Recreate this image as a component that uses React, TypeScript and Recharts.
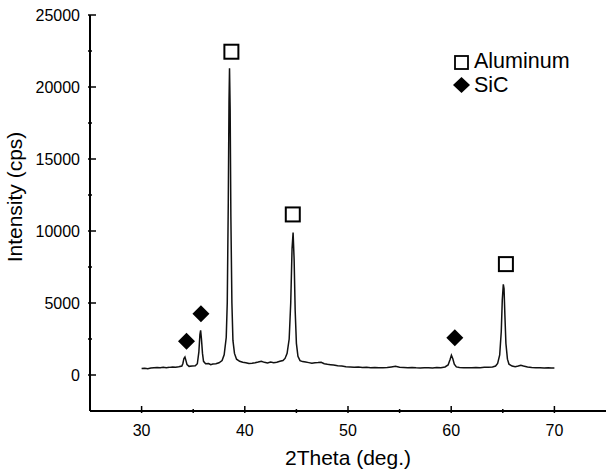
import React from "react";
import { ComposedChart, Line, Scatter, XAxis, YAxis, Legend } from "recharts";

// XRD scan
const twoTheta = [
  30.0, 30.3, 30.6, 30.9, 31.2, 31.5, 31.8, 32.1, 32.4, 32.7, 33.0, 33.3, 33.6, 33.9,
  34.0, 34.1, 34.2, 34.3, 34.4, 34.6, 34.9, 35.2, 35.4, 35.55, 35.65, 35.72, 35.8, 35.9,
  36.0, 36.2, 36.5, 36.7, 36.9, 37.2, 37.5, 37.8, 38.0, 38.2, 38.3, 38.4, 38.47, 38.52,
  38.58, 38.65, 38.75, 38.85, 39.0, 39.2, 39.5, 39.8, 40.1, 40.4, 40.7, 41.0, 41.3, 41.6,
  41.9, 42.2, 42.5, 42.8, 43.1, 43.4, 43.7, 43.9, 44.1, 44.3, 44.45, 44.58, 44.68, 44.78,
  44.88, 45.0, 45.15, 45.35, 45.6, 45.9, 46.2, 46.5, 46.8, 47.1, 47.4, 47.7, 48.0, 48.3,
  48.6, 49.0, 49.4, 49.8, 50.2, 50.6, 51.0, 51.4, 51.8, 52.2, 52.6, 53.0, 53.4, 53.8,
  54.2, 54.6, 55.0, 55.4, 55.8, 56.2, 56.6, 57.0, 57.4, 57.8, 58.2, 58.6, 59.0, 59.4,
  59.7, 59.9, 60.02, 60.15, 60.3, 60.5, 60.8, 61.2, 61.6, 62.0, 62.4, 62.8, 63.2, 63.6,
  64.0, 64.3, 64.5, 64.7, 64.85, 64.95, 65.05, 65.12, 65.2, 65.3, 65.45, 65.6, 65.9, 66.2,
  66.5, 66.75, 67.0, 67.4, 67.8, 68.2, 68.6, 69.0, 69.4, 69.7, 70.0,
];
const intensity = [
  450, 470, 440, 480, 500, 520, 500, 540, 510, 530, 560, 540, 570, 620,
  800, 1150, 1250, 1000, 720, 600, 620, 640, 780, 1600, 2800, 3100, 2500, 1500,
  950, 780, 800, 720, 760, 780, 850, 1000, 1400, 2600, 5000, 12000, 19000, 21300,
  18500, 11000, 5000, 2400, 1500, 1100, 950, 880, 850, 800, 820, 850, 900, 960,
  880, 840, 900, 850, 880, 950, 1000, 1150, 1500, 2500, 5000, 8800, 9900, 8000,
  4500, 2200, 1300, 1000, 930, 900, 860, 820, 850, 860, 880, 780, 740, 720,
  700, 650, 620, 580, 560, 540, 550, 520, 530, 510, 520, 500, 510, 520,
  560, 600, 540, 520, 500, 520, 500, 490, 510, 500, 490, 520, 510, 560,
  700, 1100, 1380, 1150, 750, 560, 520, 500, 510, 500, 520, 510, 530, 540,
  560, 620, 800, 1400, 3000, 5200, 6300, 6000, 4200, 2200, 1100, 750, 620, 580,
  620, 680, 620, 560, 520, 500, 510, 490, 500, 480, 480,
];

// peak markers
const aluminumX = [38.7, 44.65, 65.3];
const aluminumY = [22450, 11150, 7700];
const sicX = [34.35, 35.75, 60.35];
const sicY = [2350, 4250, 2580];

const xTicks = [30, 35, 40, 45, 50, 55, 60, 65, 70];
const yTicks = [0, 2500, 5000, 7500, 10000, 12500, 15000, 17500, 20000, 22500, 25000];

const FONT = '"Liberation Sans", Arial, Helvetica, sans-serif';

const spectrum = twoTheta.map((x, i) => ({ x, y: intensity[i] }));
const aluminum = aluminumX.map((x, i) => ({ x, y: aluminumY[i] }));
const sic = sicX.map((x, i) => ({ x, y: sicY[i] }));

const BottomTick = (props: any) => {
  const { x, y, payload } = props;
  const major = payload.value % 10 === 0;
  return (
    <g>
      <line x1={x} x2={x} y1={y} y2={y - (major ? 7 : 4)} stroke="#000" strokeWidth={1.5} />
      {major && (
        <text x={x} y={y + 23} textAnchor="middle" fontSize={16} fontFamily={FONT} fill="#000">
          {payload.value}
        </text>
      )}
    </g>
  );
};

const TopTick = (props: any) => {
  const { x, y, payload } = props;
  const major = payload.value % 10 === 0;
  return <line x1={x} x2={x} y1={y} y2={y + (major ? 7 : 4)} stroke="#000" strokeWidth={1.5} />;
};

const LeftTick = (props: any) => {
  const { x, y, payload } = props;
  const major = payload.value % 5000 === 0;
  return (
    <g>
      <line x1={x} x2={x + (major ? 8 : 4)} y1={y} y2={y} stroke="#000" strokeWidth={1.5} />
      {major && (
        <text x={x - 8} y={y + 6} textAnchor="end" fontSize={16} fontFamily={FONT} fill="#000">
          {payload.value}
        </text>
      )}
    </g>
  );
};

const Square = (props: any) => (
  <rect x={props.cx - 7} y={props.cy - 7} width={14} height={14} fill="#fff" stroke="#000" strokeWidth={2} />
);

const Diamond = (props: any) => {
  const { cx, cy } = props;
  return <polygon points={`${cx},${cy - 8.5} ${cx + 8.5},${cy} ${cx},${cy + 8.5} ${cx - 8.5},${cy}`} fill="#000" />;
};

const YTitle = () => (
  <text
    x={22}
    y={197}
    transform="rotate(-90, 22, 197)"
    textAnchor="middle"
    fontSize={21}
    fontFamily={FONT}
    fill="#000"
  >
    Intensity (cps)
  </text>
);

const LegendBox = () => (
  <svg width={150} height={55}>
    <rect x={5} y={11} width={13} height={13} fill="#fff" stroke="#000" strokeWidth={1.8} />
    <text x={24} y={23} fontSize={21.5} fontFamily={FONT} fill="#000">
      Aluminum
    </text>
    <polygon points="11.5,32 20,40 11.5,48 3,40" fill="#000" />
    <text x={24} y={47} fontSize={21.5} fontFamily={FONT} fill="#000">
      SiC
    </text>
  </svg>
);

export default function App() {
  return (
    <div style={{ position: "absolute", left: 0, top: 0 }}>
      <ComposedChart width={607} height={470} margin={{ top: 15, right: 1, bottom: 0, left: 0 }}>
        <XAxis
          xAxisId="b"
          type="number"
          dataKey="x"
          domain={[25, 75]}
          ticks={xTicks}
          interval={0}
          tickSize={0}
          tickLine={false}
          tick={<BottomTick />}
          height={59}
          axisLine={{ stroke: "#000", strokeWidth: 2 }}
          label={{ value: "2Theta (deg.)", position: "insideBottom", offset: 5, fontSize: 21, fontFamily: FONT, fill: "#000" }}
        />
        <XAxis
          xAxisId="t"
          orientation="top"
          type="number"
          dataKey="x"
          domain={[25, 75]}
          ticks={xTicks}
          interval={0}
          tickSize={0}
          tickLine={false}
          tick={<TopTick />}
          height={0}
          axisLine={{ stroke: "#000", strokeWidth: 2 }}
        />
        <YAxis
          yAxisId="l"
          type="number"
          dataKey="y"
          domain={[-2500, 25000]}
          ticks={yTicks}
          interval={0}
          tickSize={0}
          tickLine={false}
          tick={<LeftTick />}
          width={90}
          axisLine={{ stroke: "#000", strokeWidth: 2 }}
          label={<YTitle />}
        />
        <YAxis
          yAxisId="r"
          orientation="right"
          type="number"
          domain={[-2500, 25000]}
          ticks={[]}
          tickLine={false}
          tick={false}
          width={0}
          axisLine={{ stroke: "#000", strokeWidth: 2 }}
        />
        <Legend
          layout="vertical"
          align="center"
          verticalAlign="middle"
          content={<LegendBox />}
          wrapperStyle={{ left: 450, top: 45, width: 150 }}
        />
        <Line
          xAxisId="b"
          yAxisId="l"
          data={spectrum}
          dataKey="y"
          type="linear"
          dot={false}
          stroke="#111"
          strokeWidth={1.5}
          isAnimationActive={false}
        />
        <Scatter xAxisId="b" yAxisId="l" data={aluminum} dataKey="y" shape={<Square />} isAnimationActive={false} />
        <Scatter xAxisId="b" yAxisId="l" data={sic} dataKey="y" shape={<Diamond />} isAnimationActive={false} />
      </ComposedChart>
    </div>
  );
}
